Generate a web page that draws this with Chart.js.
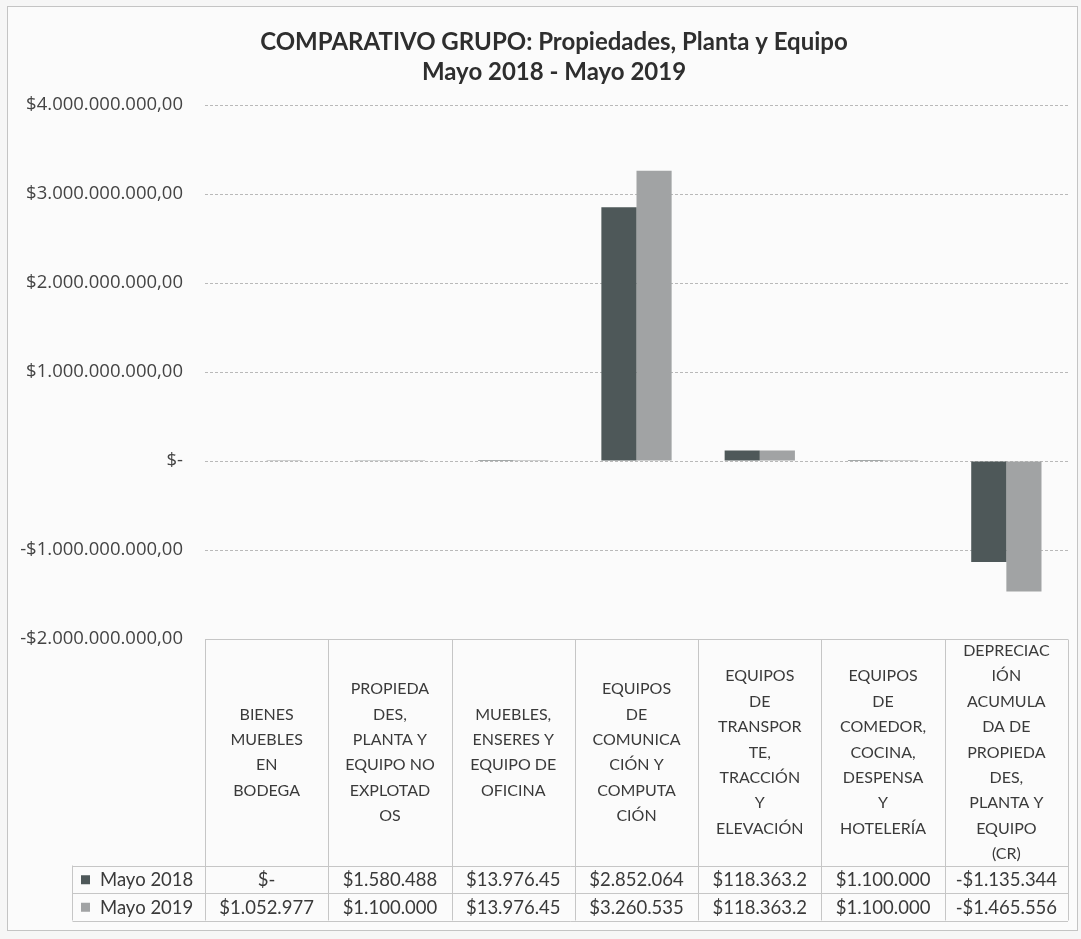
<!DOCTYPE html>
<html lang="es">
<head>
<meta charset="utf-8">
<title>Comparativo Grupo</title>
<script src="https://cdn.jsdelivr.net/npm/chart.js@4.4.1/dist/chart.umd.min.js"></script>
<style>
  html, body { margin: 0; padding: 0; background: #f6f6f6; }
  #contenedor { position: absolute; left: 0; top: 0; width: 1081px; height: 939px; }
</style>
</head>
<body>
<div id="contenedor"><canvas id="myChart" width="1081" height="939"></canvas></div>
<script>
// categorias (con los cortes de linea de la tabla)
const categorias = [
  ["BIENES", "MUEBLES", "EN", "BODEGA"],
  ["PROPIEDA", "DES,", "PLANTA Y", "EQUIPO NO", "EXPLOTAD", "OS"],
  ["MUEBLES,", "ENSERES Y", "EQUIPO DE", "OFICINA"],
  ["EQUIPOS", "DE", "COMUNICA", "CIÓN Y", "COMPUTA", "CIÓN"],
  ["EQUIPOS", "DE", "TRANSPOR", "TE,", "TRACCIÓN", "Y", "ELEVACIÓN"],
  ["EQUIPOS", "DE", "COMEDOR,", "COCINA,", "DESPENSA", "Y", "HOTELERÍA"],
  ["DEPRECIAC", "IÓN", "ACUMULA", "DA DE", "PROPIEDA", "DES,", "PLANTA Y", "EQUIPO", "(CR)"],
];

const series = ["Mayo 2018", "Mayo 2019"];

// valores en pesos
const mayo2018 = [0, 1580488, 13976.45, 2852064000, 118363200, 1100000, -1135344000];
const mayo2019 = [1052977, 1100000, 13976.45, 3260535000, 118363200, 1100000, -1465556000];

// textos de la tabla de datos
const textos2018 = ["$-", "$1.580.488", "$13.976.45", "$2.852.064", "$118.363.2", "$1.100.000", "-$1.135.344"];
const textos2019 = ["$1.052.977", "$1.100.000", "$13.976.45", "$3.260.535", "$118.363.2", "$1.100.000", "-$1.465.556"];

const titulo = ["COMPARATIVO GRUPO: Propiedades, Planta y Equipo", "Mayo 2018 - Mayo 2019"];

const ejeMin = -2000000000;
const ejeMax = 4000000000;
const ejePaso = 1000000000;

const colores = ["#4e5859", "#a1a3a4"];
const fuenteTabla = "Lato, sans-serif";

const formatoPesos = (v) => {
  if (v === 0) return "$-";
  const signo = v < 0 ? "-" : "";
  const entero = Math.abs(Math.round(v)).toString().replace(/\B(?=(\d{3})+(?!\d))/g, ".");
  return signo + "$" + entero + ",00";
};

// fondo, marco y titulo del grafico
const marcoPlugin = {
  id: "marco",
  beforeDraw(chart) {
    const ctx = chart.ctx;
    ctx.save();
    ctx.fillStyle = "#fbfbfb";
    ctx.fillRect(7, 6, 1071, 925);
    ctx.strokeStyle = "#c4c4c4";
    ctx.lineWidth = 1;
    ctx.strokeRect(7.5, 6.5, 1070, 924);

    ctx.fillStyle = "#2e2e2e";
    ctx.font = "bold 24px Lato, sans-serif";
    ctx.textAlign = "center";
    ctx.textBaseline = "middle";
    titulo.forEach((t, i) => ctx.fillText(t, 554, 42 + i * 30));
    ctx.restore();
  },
};

// tabla de datos debajo del grafico
const tablaPlugin = {
  id: "tablaDatos",
  afterDraw(chart) {
    const ctx = chart.ctx;
    const area = chart.chartArea;
    const x = chart.scales.x;
    const n = categorias.length;
    const anchoCol = (area.right - area.left) / n;
    const top = Math.round(area.bottom) + 0.5;
    const finCabecera = 865.5;
    const altoFila = 27.5;
    const izqLeyenda = 72.5;
    const fondo = finCabecera + altoFila * 2;

    ctx.save();
    ctx.strokeStyle = "#c6c6c6";
    ctx.lineWidth = 1;
    ctx.beginPath();
    // lineas horizontales
    ctx.moveTo(area.left, top); ctx.lineTo(area.right, top);
    for (let f = 0; f <= 2; f++) {
      const yy = Math.round(finCabecera + altoFila * f) + 0.5;
      ctx.moveTo(izqLeyenda, yy); ctx.lineTo(area.right, yy);
    }
    // lineas verticales
    for (let i = 0; i <= n; i++) {
      const xx = Math.round(area.left + anchoCol * i) + 0.5;
      ctx.moveTo(xx, top); ctx.lineTo(xx, fondo);
    }
    ctx.moveTo(izqLeyenda, finCabecera); ctx.lineTo(izqLeyenda, fondo);
    ctx.stroke();

    // cabecera
    ctx.fillStyle = "#3a3a3a";
    ctx.textAlign = "center";
    ctx.textBaseline = "middle";
    ctx.font = "16px " + fuenteTabla;
    const altoLinea = 25.4;
    const centroCab = (top + finCabecera) / 2;
    categorias.forEach((lineas, i) => {
      const cx = x.getPixelForValue(i);
      const y0 = centroCab - ((lineas.length - 1) * altoLinea) / 2;
      lineas.forEach((t, j) => ctx.fillText(t, cx, y0 + j * altoLinea));
    });

    // filas de valores
    ctx.font = "18.5px " + fuenteTabla;
    const textos = [textos2018, textos2019];
    textos.forEach((fila, f) => {
      const cy = finCabecera + altoFila * f + altoFila / 2 + 1;
      ctx.textAlign = "center";
      ctx.fillStyle = "#3a3a3a";
      fila.forEach((t, i) => ctx.fillText(t, x.getPixelForValue(i), cy));
      // leyenda
      ctx.fillStyle = colores[f];
      ctx.fillRect(81, cy - 5, 9, 9);
      ctx.fillStyle = "#3a3a3a";
      ctx.textAlign = "left";
      ctx.fillText(series[f], 100, cy);
    });
    ctx.restore();
  },
};

const config = {
  type: "bar",
  data: {
    labels: categorias,
    datasets: [
      { label: series[0], data: mayo2018, backgroundColor: colores[0] },
      { label: series[1], data: mayo2019, backgroundColor: colores[1] },
    ],
  },
  options: {
    responsive: false,
    animation: false,
    layout: { padding: { left: 0, right: 13, top: 105, bottom: 300 } },
    datasets: { bar: { categoryPercentage: 0.57, barPercentage: 1.0 } },
    plugins: {
      legend: { display: false },
      tooltip: { enabled: false },
      title: { display: false },
    },
    scales: {
      x: { display: false },
      y: {
        min: ejeMin,
        max: ejeMax,
        afterFit: (scale) => { scale.width = 205; },
        ticks: {
          stepSize: ejePaso,
          padding: 22,
          color: "#444",
          font: { family: "'Open Sans', sans-serif", size: 18.5 },
          callback: (v) => formatoPesos(v),
        },
        grid: {
          color: "#b9b9b9",
          drawTicks: false,
        },
        border: { display: false, dash: [3, 2] },
      },
    },
  },
  plugins: [marcoPlugin, tablaPlugin],
};

new Chart(document.getElementById("myChart"), config);
</script>
</body>
</html>
